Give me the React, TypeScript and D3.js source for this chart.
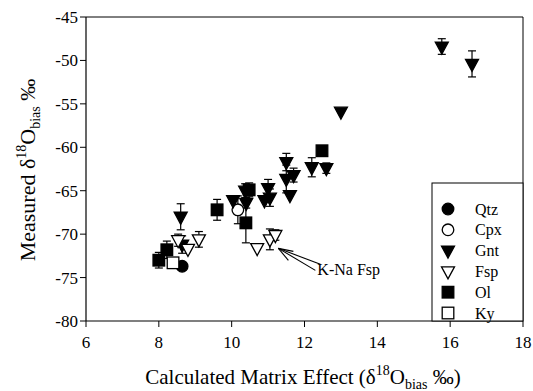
import React from "react";
import * as d3 from "d3";

const W = 533, H = 391;
const xTicks = [6, 8, 10, 12, 14, 16, 18];
const yTicks = [-45, -50, -55, -60, -65, -70, -75, -80];

// [x, y, error]
const qtz: number[][] = [[8.64, -73.7, 0]];
const cpx: number[][] = [[10.17, -67.2, 1.6]];
const gnt: number[][] = [
  [8.6, -68.0, 1.5], [8.64, -71.2, 1.0], [10.04, -66.1, 0], [10.37, -65.0, 0.8],
  [10.4, -66.4, 0.6], [10.9, -66.1, 0], [11.0, -64.7, 1.0], [11.05, -65.8, 1.0],
  [11.5, -61.7, 1.0], [11.7, -63.2, 0.8], [11.5, -63.65, 1.6], [11.6, -65.5, 0],
  [12.2, -62.3, 1.1], [12.6, -62.4, 0.6], [13.0, -55.9, 0], [15.77, -48.4, 0.9],
  [16.6, -50.4, 1.5],
];
const fsp: number[][] = [
  [8.53, -70.7, 0.7], [8.8, -71.7, 0], [9.1, -70.6, 0.9], [10.7, -71.6, 0],
  [11.05, -70.6, 1.2], [11.2, -70.1, 0.6],
];
const ol: number[][] = [
  [8.0, -73.0, 0.9], [8.22, -71.8, 1.0], [9.6, -67.2, 1.2], [10.48, -64.9, 0.8],
  [10.39, -68.7, 2.3], [12.48, -60.4, 0],
];
const ky: number[][] = [[8.39, -73.3, 0]];

const legendNames = ["Qtz", "Cpx", "Gnt", "Fsp", "Ol", "Ky"];

type Shape = "circle" | "triangle" | "square";
const seriesDefs: { name: string; data: number[][]; shape: Shape; filled: boolean }[] = [
  { name: "Qtz", data: qtz, shape: "circle", filled: true },
  { name: "Cpx", data: cpx, shape: "circle", filled: false },
  { name: "Gnt", data: gnt, shape: "triangle", filled: true },
  { name: "Fsp", data: fsp, shape: "triangle", filled: false },
  { name: "Ol", data: ol, shape: "square", filled: true },
  { name: "Ky", data: ky, shape: "square", filled: false },
];

const FONT = "'Liberation Serif', 'Times New Roman', serif";

function Marker({ shape, filled, cx, cy }: { shape: Shape; filled: boolean; cx: number; cy: number }) {
  const fill = filled ? "#000" : "#fff";
  const sw = 1.3;
  if (shape === "circle") return <circle cx={cx} cy={cy} r={5.8} fill={fill} stroke="#000" strokeWidth={sw} />;
  if (shape === "square") return <rect x={cx - 5.8} y={cy - 5.8} width={11.6} height={11.6} fill={fill} stroke="#000" strokeWidth={sw} />;
  const p = `M${cx - 6.5},${cy - 4.5} L${cx + 6.5},${cy - 4.5} L${cx},${cy + 7.5} Z`;
  return <path d={p} fill={fill} stroke="#000" strokeWidth={sw} strokeLinejoin="miter" />;
}

export default function App() {
  const left = 86, right = 523, top = 17, bottom = 321;
  const x = d3.scaleLinear().domain([6, 18]).range([left, right]);
  const y = d3.scaleLinear().domain([-80, -45]).range([bottom, top]);

  const legX = 432, legTop = 183;
  const tip = [x(11.2) + 3, y(-70.6) + 9];

  return (
    <svg width={W} height={H} style={{ position: "absolute", left: 0, top: 0, background: "#fff" }} fontFamily={FONT}>
      <rect x={0} y={0} width={W} height={H} fill="#fff" />
      {/* frame */}
      <line x1={left} y1={top} x2={right} y2={top} stroke="#000" strokeWidth={1} />
      <line x1={right} y1={top} x2={right} y2={bottom} stroke="#000" strokeWidth={1} />
      <line x1={left} y1={top} x2={left} y2={bottom} stroke="#000" strokeWidth={1.2} />
      <line x1={left} y1={bottom} x2={right} y2={bottom} stroke="#000" strokeWidth={1.2} />
      {yTicks.map((t) => (
        <g key={"y" + t}>
          <line x1={left - 6} x2={left} y1={y(t)} y2={y(t)} stroke="#000" />
          <text x={left - 8} y={y(t)} dy="0.35em" textAnchor="end" fontSize={17}>{t}</text>
        </g>
      ))}
      {xTicks.map((t) => (
        <g key={"x" + t}>
          <line x1={x(t)} x2={x(t)} y1={bottom} y2={bottom + 6} stroke="#000" />
          <text x={x(t)} y={bottom + 27} textAnchor="middle" fontSize={17}>{t}</text>
        </g>
      ))}
      {/* axis titles */}
      <text x={303} y={384} textAnchor="middle" fontSize={21}>
        Calculated Matrix Effect (δ<tspan fontSize={14} dy={-9}>18</tspan>
        <tspan dy={9}>O</tspan><tspan fontSize={14} dy={5}>bias</tspan>
        <tspan dy={-5}> ‰)</tspan>
      </text>
      <text transform={`translate(35,${170}) rotate(-90)`} textAnchor="middle" fontSize={22}>
        Measured δ<tspan fontSize={14} dy={-9}>18</tspan>
        <tspan dy={9}>O</tspan><tspan fontSize={14} dy={5}>bias</tspan>
        <tspan dy={-5}>{"  ‰"}</tspan>
      </text>
      {/* error bars */}
      {seriesDefs.map((s) =>
        s.data.filter((d) => d[2] > 0).map((d, i) => {
          const cx = x(d[0]);
          const y1 = y(d[1] + d[2]), y2 = y(d[1] - d[2]);
          return (
            <g key={s.name + "e" + i} stroke="#000" strokeWidth={1.2}>
              <line x1={cx} x2={cx} y1={y1} y2={y2} />
              <line x1={cx - 4} x2={cx + 4} y1={y1} y2={y1} />
              <line x1={cx - 4} x2={cx + 4} y1={y2} y2={y2} />
            </g>
          );
        })
      )}
      {/* markers */}
      {seriesDefs.map((s) =>
        s.data.map((d, i) => <Marker key={s.name + i} shape={s.shape} filled={s.filled} cx={x(d[0])} cy={y(d[1])} />)
      )}
      {/* annotation */}
      <g stroke="#000" strokeWidth={1.1} fill="none">
        <line x1={tip[0]} y1={tip[1]} x2={tip[0] + 42} y2={tip[1] + 16} />
        <line x1={tip[0]} y1={tip[1]} x2={tip[0] + 37} y2={tip[1] + 22} />
        <line x1={tip[0]} y1={tip[1]} x2={tip[0] + 15} y2={tip[1] + 3} />
        <line x1={tip[0]} y1={tip[1]} x2={tip[0] + 10} y2={tip[1] + 12} />
      </g>
      <text x={tip[0] + 39} y={tip[1] + 27} fontSize={16}>K-Na Fsp</text>
      {/* legend */}
      <rect x={legX} y={legTop} width={right - legX} height={bottom - legTop} fill="#fff" stroke="#000" strokeWidth={1} />
      {seriesDefs.map((s, i) => {
        const ly = 209 + i * 20.8;
        return (
          <g key={"leg" + s.name}>
            <Marker shape={s.shape} filled={s.filled} cx={448} cy={ly} />
            <text x={475} y={ly} dy="0.35em" fontSize={16}>{legendNames[i]}</text>
          </g>
        );
      })}
    </svg>
  );
}
